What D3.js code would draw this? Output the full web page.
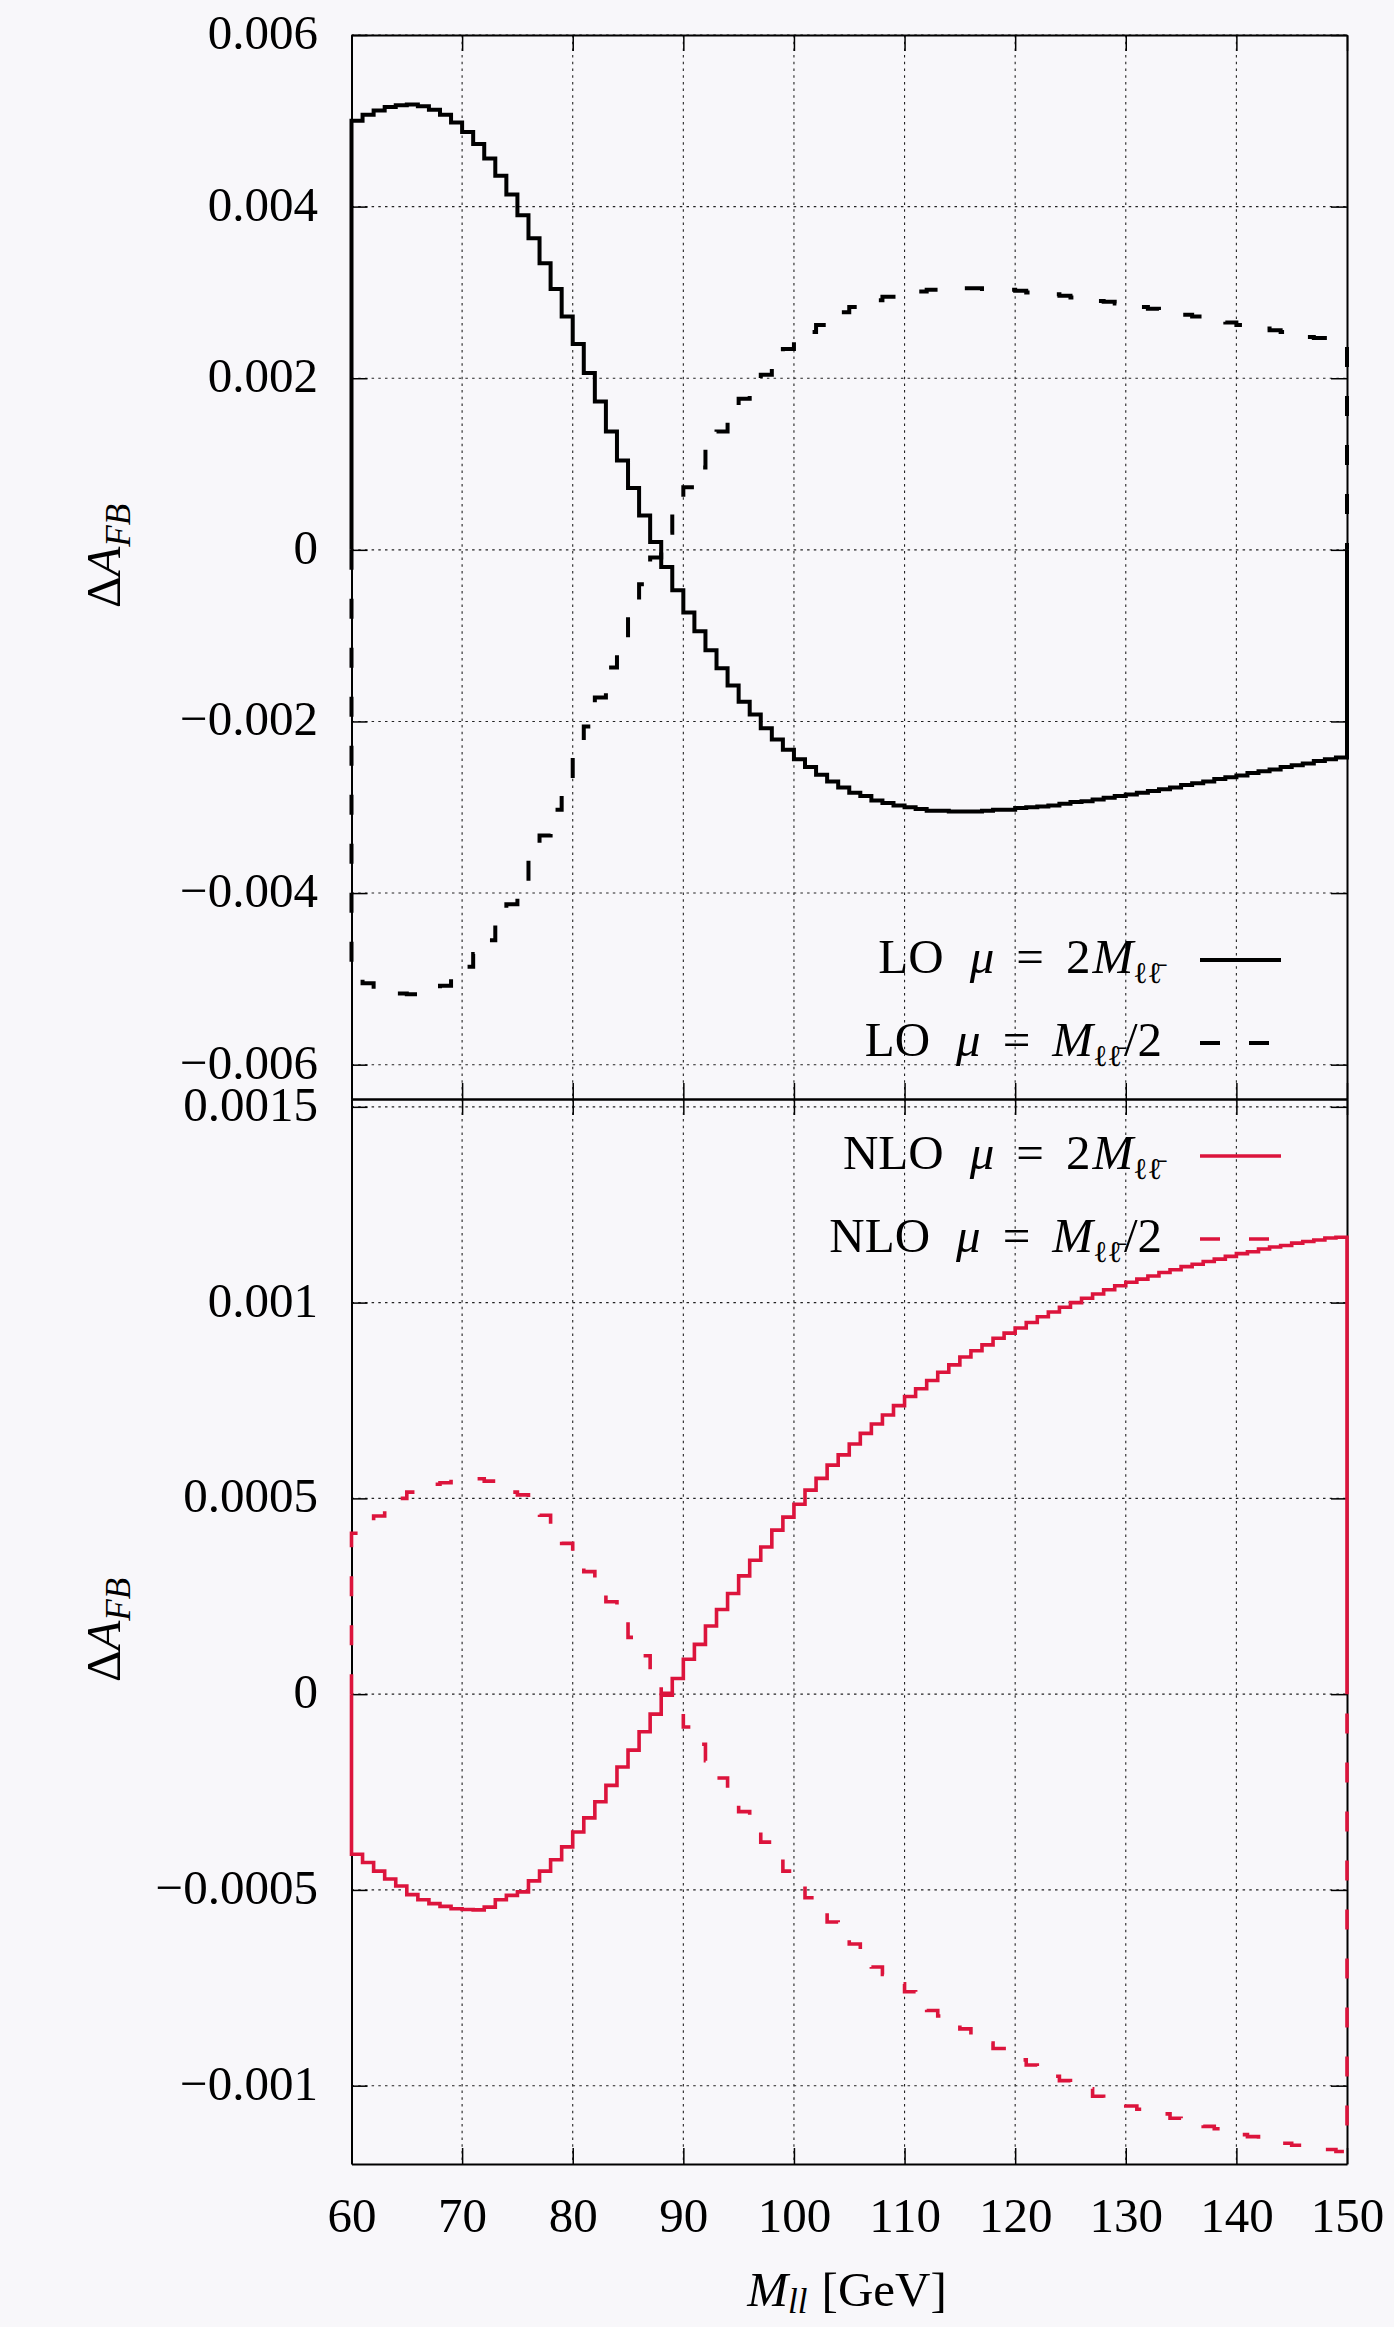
<!DOCTYPE html>
<html><head><meta charset="utf-8">
<script src="https://cdn.jsdelivr.net/npm/d3@7"></script>
<style>html,body{margin:0;padding:0;background:#f8f7fa;} svg{display:block;}</style>
</head><body><svg id="c" width="1394" height="2327"></svg>
<script>
// ---- data (1 GeV bins, lower edges 60..149) ----
const binLow = d3.range(60, 150);
const loHigh = [0.00500,0.00507,0.00512,0.00516,0.00518,0.00519,0.00517,0.00513,0.00507,0.00498,
0.00487,0.00473,0.00456,0.00436,0.00414,0.00390,0.00363,0.00334,0.00304,0.00272,
0.00240,0.00206,0.00173,0.00138,0.00104,0.00072,0.00040,0.00009,-0.00020,-0.00047,
-0.00073,-0.00095,-0.00117,-0.00138,-0.00158,-0.00177,-0.00192,-0.00208,-0.00221,-0.00233,
-0.00244,-0.00253,-0.00262,-0.00270,-0.00277,-0.00283,-0.00287,-0.00292,-0.00295,-0.00298,
-0.00300,-0.00302,-0.00304,-0.00304,-0.00305,-0.00305,-0.00305,-0.00304,-0.00303,-0.00303,
-0.00301,-0.00300,-0.00299,-0.00298,-0.00296,-0.00294,-0.00293,-0.00291,-0.00289,-0.00287,
-0.00285,-0.00283,-0.00281,-0.00279,-0.00277,-0.00274,-0.00272,-0.00270,-0.00267,-0.00265,
-0.00263,-0.00260,-0.00258,-0.00256,-0.00253,-0.00251,-0.00249,-0.00246,-0.00244,-0.00242];
const loLow = [-0.00499,-0.00505,-0.00512,-0.00515,-0.00517,-0.00518,-0.00517,-0.00513,-0.00508,-0.00497,
-0.00486,-0.00471,-0.00455,-0.00435,-0.00413,-0.00389,-0.00362,-0.00333,-0.00303,-0.00271,
-0.00239,-0.00206,-0.00172,-0.00137,-0.00104,-0.00071,-0.00040,-0.00009,0.00020,0.00048,
0.00073,0.00096,0.00117,0.00138,0.00158,0.00176,0.00192,0.00204,0.00221,0.00234,
0.00244,0.00254,0.00262,0.00268,0.00277,0.00283,0.00288,0.00291,0.00295,0.00298,
0.00300,0.00301,0.00303,0.00304,0.00305,0.00305,0.00305,0.00304,0.00303,0.00303,
0.00302,0.00300,0.00298,0.00298,0.00296,0.00294,0.00292,0.00290,0.00289,0.00287,
0.00285,0.00283,0.00281,0.00279,0.00276,0.00274,0.00272,0.00269,0.00267,0.00265,
0.00262,0.00260,0.00258,0.00256,0.00254,0.00251,0.00248,0.00247,0.00244,0.00242];
const nloHigh = [-0.000409,-0.000430,-0.000452,-0.000472,-0.000490,-0.000512,-0.000525,-0.000535,-0.000542,-0.000548,
-0.000550,-0.000551,-0.000544,-0.000525,-0.000514,-0.000505,-0.000477,-0.000452,-0.000423,-0.000390,
-0.000352,-0.000316,-0.000275,-0.000233,-0.000186,-0.000143,-0.000096,-0.000051,-0.000003,0.000040,
0.000089,0.000127,0.000174,0.000216,0.000257,0.000302,0.000342,0.000376,0.000419,0.000452,
0.000485,0.000521,0.000551,0.000585,0.000611,0.000639,0.000666,0.000690,0.000713,0.000737,
0.000760,0.000780,0.000801,0.000822,0.000841,0.000861,0.000877,0.000892,0.000909,0.000922,
0.000935,0.000949,0.000964,0.000976,0.000988,0.001000,0.001011,0.001022,0.001033,0.001043,
0.001052,0.001060,0.001068,0.001077,0.001084,0.001092,0.001098,0.001105,0.001111,0.001118,
0.001125,0.001130,0.001137,0.001142,0.001146,0.001152,0.001156,0.001160,0.001165,0.001167];
const nloLow = [0.000411,0.000433,0.000455,0.000479,0.000500,0.000516,0.000527,0.000536,0.000540,0.000549,
0.000552,0.000550,0.000544,0.000526,0.000516,0.000509,0.000480,0.000457,0.000423,0.000385,
0.000351,0.000313,0.000274,0.000236,0.000190,0.000145,0.000098,0.000053,0.000002,-0.000041,
-0.000084,-0.000128,-0.000170,-0.000214,-0.000258,-0.000300,-0.000340,-0.000378,-0.000417,-0.000452,
-0.000484,-0.000520,-0.000550,-0.000582,-0.000607,-0.000638,-0.000663,-0.000697,-0.000716,-0.000740,
-0.000760,-0.000778,-0.000808,-0.000822,-0.000835,-0.000855,-0.000872,-0.000891,-0.000905,-0.000917,
-0.000934,-0.000947,-0.000961,-0.000976,-0.000987,-0.000998,-0.001008,-0.001027,-0.001033,-0.001042,
-0.001052,-0.001060,-0.001066,-0.001072,-0.001083,-0.001090,-0.001097,-0.001104,-0.001110,-0.001118,
-0.001125,-0.001130,-0.001136,-0.001142,-0.001147,-0.001152,-0.001155,-0.001155,-0.001163,-0.001168];

const xTicks = [60,70,80,90,100,110,120,130,140,150];
const xTickLabels = ["60","70","80","90","100","110","120","130","140","150"];
const yTopTicks = [-0.006,-0.004,-0.002,0,0.002,0.004,0.006];
const yTopLabels = ["\u22120.006","\u22120.004","\u22120.002","0","0.002","0.004","0.006"];
const yBotTicks = [-0.001,-0.0005,0,0.0005,0.001,0.0015];
const yBotLabels = ["\u22120.001","\u22120.0005","0","0.0005","0.001","0.0015"];

// ---- layout ----
const FONT = "'Liberation Serif','Times New Roman',serif";
const FS = 49, SFS = 35, RED = "#dc143c";
const L = 351.5, R = 1347, T = 35, MID = 1099, B = 2164;
const svg = d3.select("#c");
svg.append("rect").attr("width",1394).attr("height",2327).attr("fill","#f8f7fa");

const x = d3.scaleLinear().domain([60,150]).range([L,R]);
const yTop = d3.scaleLinear().domain([-0.0064,0.006]).range([MID,T]);
const yBot = d3.scaleLinear().domain([-0.0012,0.00152]).range([B,MID]);

function panel(y, yTicks, yLabels, top, bottom, showX){
  const g = svg.append("g");
  g.selectAll(null).data(xTicks.slice(1,-1)).join("line")
    .attr("x1",d=>x(d)).attr("x2",d=>x(d)).attr("y1",top).attr("y2",bottom)
    .attr("stroke","#222").attr("stroke-width",1.1).attr("stroke-dasharray","2.5,4.2");
  g.selectAll(null).data(yTicks).join("line")
    .attr("x1",L).attr("x2",R).attr("y1",d=>y(d)).attr("y2",d=>y(d))
    .attr("stroke","#222").attr("stroke-width",1.1).attr("stroke-dasharray","2.5,4.2");
  const ax = [
    g.append("g").attr("transform",`translate(${L},0)`).call(d3.axisLeft(y).tickValues(yTicks).tickSizeInner(-16).tickSizeOuter(0).tickPadding(33.5).tickFormat((d,i)=>yLabels[i])),
    g.append("g").attr("transform",`translate(${R},0)`).call(d3.axisRight(y).tickValues(yTicks).tickSizeInner(-16).tickSizeOuter(0).tickFormat("")),
    g.append("g").attr("transform",`translate(0,${top})`).call(d3.axisTop(x).tickValues(xTicks).tickSizeInner(-16).tickSizeOuter(0).tickFormat("")),
    g.append("g").attr("transform",`translate(0,${bottom})`).call(d3.axisBottom(x).tickValues(xTicks).tickSizeInner(-16).tickSizeOuter(0).tickPadding(32).tickFormat((d,i)=>showX?xTickLabels[i]:""))
  ];
  ax.forEach(a=>{
    a.select(".domain").attr("stroke","#000").attr("stroke-width",2);
    a.selectAll(".tick line").attr("stroke","#000").attr("stroke-width",1.5);
    a.selectAll("text").attr("font-family",FONT).attr("font-size",FS).attr("fill","#000");
  });
  ax[0].selectAll("text").attr("dy",13.5);
  ax[3].selectAll("text").attr("dy",0).attr("y",2232-bottom);
  return g;
}
panel(yTop, yTopTicks, yTopLabels, T, MID, false);
panel(yBot, yBotTicks, yBotLabels, MID, B, true);

// ---- histograms ----
function stepPts(vals){
  const p=[[binLow[0],0]];
  vals.forEach((v,i)=>{p.push([binLow[i],v]);p.push([binLow[i]+1,v]);});
  p.push([binLow[binLow.length-1]+1,0]);
  return p;
}
function hist(y, vals, color, dashed, w){
  svg.append("path").attr("d", d3.line().x(d=>x(d[0])).y(d=>y(d[1]))(stepPts(vals)))
    .attr("fill","none").attr("stroke",color).attr("stroke-width",w)
    .attr("stroke-linejoin","miter").attr("stroke-linecap","butt")
    .attr("stroke-dasharray",dashed?"20,29":null);
}
hist(yTop, loHigh, "#000", false, 4);
hist(yTop, loLow, "#000", true, 4);
hist(yBot, nloHigh, RED, false, 3.6);
hist(yBot, nloLow, RED, true, 3.6);

// ---- math-like text helper ----
function mtext(parent, px, py, parts, anchor, rot, shift){
  const sh = shift || 10;
  const t = parent.append("text").attr("font-family",FONT).attr("font-size",FS)
    .attr("fill","#000").attr("text-anchor",anchor||"start");
  if(rot){ t.attr("transform",`translate(${px},${py}) rotate(-90)`); }
  else { t.attr("x",px).attr("y",py); }
  let sub=false;
  parts.forEach(p=>{
    const s = t.append("tspan").text(p.t);
    let dy = 0;
    if(p.sub && !sub){ dy = sh; sub = true; }
    else if(!p.sub && sub){ dy = -sh; sub = false; }
    if(dy) s.attr("dy",dy);
    if(p.dx) s.attr("dx",p.dx);
    if(p.it) s.attr("font-style","italic");
    if(p.sub) s.attr("font-size",p.fs||SFS);
    if(p.ff) s.attr("font-family",p.ff);
  });
  return t;
}
const LL = "\u2113\u2113\u0304";
const LLFONT = "'DejaVu Serif',serif";
// axis labels
mtext(svg, 120, 556, [{t:"\u0394"},{t:"A",it:1},{t:"FB",it:1,sub:1}], "middle", true);
mtext(svg, 120, 1630, [{t:"\u0394"},{t:"A",it:1},{t:"FB",it:1,sub:1}], "middle", true);
mtext(svg, 847, 2306, [{t:"M",it:1},{t:"ll",it:1,sub:1},{t:"[GeV]",dx:14}], "middle", false, 7);

// ---- legends ----
const legends = [
  {y:960, label:[{t:"LO"},{t:"\u03bc",it:1,dx:26},{t:"=",dx:22},{t:"2",dx:22},{t:"M",it:1,dx:2},{t:LL,sub:1,ff:LLFONT,fs:30}], color:"#000", dash:false},
  {y:1043, label:[{t:"LO"},{t:"\u03bc",it:1,dx:26},{t:"=",dx:22},{t:"M",it:1,dx:22},{t:LL,sub:1,ff:LLFONT,fs:30},{t:"/2",dx:2}], color:"#000", dash:true},
  {y:1156, label:[{t:"NLO"},{t:"\u03bc",it:1,dx:26},{t:"=",dx:22},{t:"2",dx:22},{t:"M",it:1,dx:2},{t:LL,sub:1,ff:LLFONT,fs:30}], color:RED, dash:false},
  {y:1239, label:[{t:"NLO"},{t:"\u03bc",it:1,dx:26},{t:"=",dx:22},{t:"M",it:1,dx:22},{t:LL,sub:1,ff:LLFONT,fs:30},{t:"/2",dx:2}], color:RED, dash:true}
];
legends.forEach(l=>{
  mtext(svg, 1162, l.y+13, l.label, "end");
  svg.append("line").attr("x1",1200).attr("x2",1281).attr("y1",l.y).attr("y2",l.y)
    .attr("stroke",l.color).attr("stroke-width",l.color==="#000"?4:3.6)
    .attr("stroke-dasharray",l.dash?"20,29":null);
});
</script></body></html>
